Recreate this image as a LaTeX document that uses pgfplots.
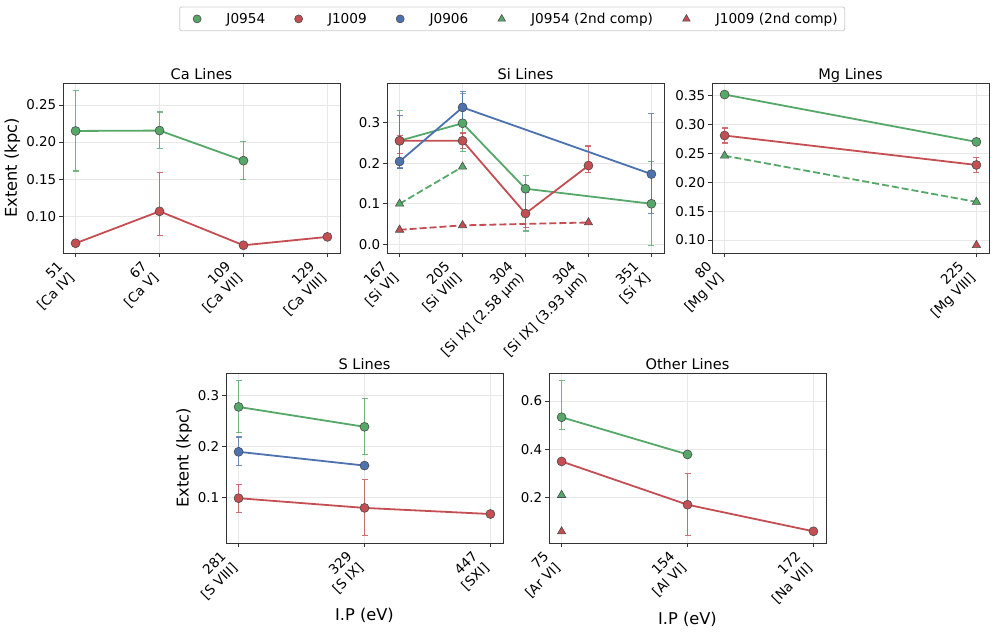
\documentclass[border=0pt]{standalone}
\usepackage{fontspec}
\setmainfont{DejaVu Sans}
\usepackage{pgfplots}
\usepackage{pgfplotstable}
\pgfplotsset{compat=1.18}
\definecolor{cg}{HTML}{55A868}
\definecolor{cr}{HTML}{C44E52}
\definecolor{cb}{HTML}{4C72B0}
\pgfplotsset{
 every axis title shift=-3.4bp,
 panel/.style={scale only axis, width=277bp, height=170bp, anchor=south west,
  axis line style={draw=black!80, line width=0.8bp},
  grid=major, grid style={draw=black!9, line width=0.6bp},
  tick align=outside, xtick pos=bottom, ytick pos=left,
  major tick length=4bp, tick style={draw=black!80, line width=0.8bp},
  /pgf/number format/assume math mode=true,
  ticklabel style={font=\fontsize{13.5}{16.2}\selectfont},
  xticklabel style={xshift=-19bp, yshift=-3bp, rotate=45, anchor=north east, align=right, inner sep=0pt},
  yticklabel style={inner sep=2.5bp},
  title style={font=\fontsize{14.6}{17}\selectfont, text depth=3.5bp},
  label style={font=\fontsize{16.3}{19}\selectfont},
  xlabel style={yshift=-3bp},
  scaled y ticks=false,
 },
 ytwo/.style={yticklabel style={/pgf/number format/.cd, fixed, precision=2, fixed zerofill}},
 yone/.style={yticklabel style={/pgf/number format/.cd, fixed, precision=1, fixed zerofill}},
 ser/.style={line width=1.8bp, color=#1, mark=*, mark size=4.5bp,
   mark options={solid, fill=#1, draw=black!70, line width=0.6bp}},
 ebar/.style={forget plot, color=#1, only marks, mark=none,
   error bars/y dir=both, error bars/y explicit,
   error bars/error bar style={color=#1, line width=1.2bp, opacity=0.8, solid},
   error bars/error mark options={rotate=90, color=#1, line width=1.1bp, mark size=3bp, opacity=0.8, solid}},
 tri/.style={line width=1.8bp, color=#1, dash pattern=on 7bp off 3bp, mark=triangle*, mark size=4.8bp,
   mark options={solid, fill=#1, draw=black!70, line width=0.6bp}},
 table/etab/.style={x=x, y=y, y error plus=ep, y error minus=em},
 table/xy/.style={x=x, y=y},
}
% ---- data: x = category index, y = extent (kpc), ep/em = upper/lower error ----
\pgfplotstableread[row sep=\\]{x y ep em\\ 0 0.215 0.054 0.054\\ 1 0.2155 0.025 0.024\\ 2 0.175 0.026 0.026\\}\CaG
\pgfplotstableread[row sep=\\]{x y ep em\\ 0 0.0637 0 0\\ 1 0.1067 0.052 0.032\\ 2 0.061 0 0\\ 3 0.0723 0 0\\}\CaR
\pgfplotstableread[row sep=\\]{x y ep em\\ 0 0.255 0.074 0.069\\ 1 0.298 0.074 0.069\\ 2 0.137 0.032 0.104\\ 4 0.100 0.103 0.102\\}\SiG
\pgfplotstableread[row sep=\\]{x y ep em\\ 0 0.255 0.012 0.032\\ 1 0.255 0.019 0.018\\ 2 0.076 0.051 0.035\\ 3 0.194 0.048 0.018\\}\SiR
\pgfplotstableread[row sep=\\]{x y ep em\\ 0 0.204 0.112 0.016\\ 1 0.337 0.040 0.040\\ 4 0.173 0.148 0.096\\}\SiB
\pgfplotstableread[row sep=\\]{x y\\ 0 0.100\\ 1 0.191\\}\SiGt
\pgfplotstableread[row sep=\\]{x y\\ 0 0.036\\ 1 0.047\\ 3 0.054\\}\SiRt
\pgfplotstableread[row sep=\\]{x y\\ 0 0.352\\ 1 0.270\\}\MgG
\pgfplotstableread[row sep=\\]{x y ep em\\ 0 0.281 0.013 0.013\\ 1 0.230 0.013 0.013\\}\MgR
\pgfplotstableread[row sep=\\]{x y\\ 0 0.246\\ 1 0.166\\}\MgGt
\pgfplotstableread[row sep=\\]{x y\\ 1 0.091\\}\MgRt
\pgfplotstableread[row sep=\\]{x y ep em\\ 0 0.278 0.051 0.051\\ 1 0.239 0.056 0.055\\}\SG
\pgfplotstableread[row sep=\\]{x y ep em\\ 0 0.190 0.029 0.027\\ 1 0.163 0 0\\}\SB
\pgfplotstableread[row sep=\\]{x y ep em\\ 0 0.099 0.027 0.028\\ 1 0.080 0.055 0.054\\ 2 0.068 0 0\\}\SR
\pgfplotstableread[row sep=\\]{x y ep em\\ 0 0.533 0.151 0.050\\ 1 0.379 0 0\\}\OG
\pgfplotstableread[row sep=\\]{x y ep em\\ 0 0.350 0 0\\ 1 0.171 0.128 0.127\\ 2 0.061 0 0\\}\OR
\pgfplotstableread[row sep=\\]{x y\\ 0 0.211\\}\OGt
\pgfplotstableread[row sep=\\]{x y\\ 0 0.060\\}\ORt
\begin{document}
\begin{tikzpicture}
\path[use as bounding box] (0,0) rectangle (996bp,633bp);

% ---------- Ca ----------
\begin{axis}[panel, ytwo, at={(63bp,380bp)}, xmin=-0.15, xmax=3.15, ymin=0.0506, ymax=0.2796,
  xtick={0,1,2,3}, ytick={0.10,0.15,0.20,0.25},
  xticklabels={{51\\{[}Ca IV]}, {67\\{[}Ca V]}, {109\\{[}Ca VII]}, {129\\{[}Ca VIII]}},
  title={Ca Lines}, ylabel={Extent (kpc)}]
\addplot[ebar=cg] table[etab] {\CaG};
\addplot[ser=cg] table[xy] {\CaG};
\addplot[ebar=cr] table[etab] {\CaR};
\addplot[ser=cr] table[xy] {\CaR};
\end{axis}

% ---------- Si ----------
\begin{axis}[panel, yone, at={(387bp,380bp)}, xmin=-0.2, xmax=4.2, ymin=-0.021, ymax=0.397,
  xtick={0,1,2,3,4}, ytick={0,0.1,0.2,0.3},
  xticklabels={{167\\{[}Si VI]}, {205\\{[}Si VIII]}, {304\\{[}Si IX] (2.58 µm)}, {304\\{[}Si IX] (3.93 µm)}, {351\\{[}Si X]}},
  title={Si Lines},
  legend columns=5,
  legend style={at={(0.452,1.377)}, anchor=center, draw=black!20, line width=0.8bp, rounded corners=2bp,
    fill=white, font=\fontsize{13.7}{16}\selectfont, inner xsep=5bp, inner ysep=4bp,
    /tikz/every even column/.append style={column sep=19bp}},
  legend image code/.code={\path (-12bp,0bp) (27bp,0bp); \draw[#1] plot coordinates {(0bp,0bp)};}]
\addplot[ebar=cg] table[etab] {\SiG};
\addplot[ser=cg, forget plot] table[xy] {\SiG};
\addplot[ebar=cr] table[etab] {\SiR};
\addplot[ser=cr, forget plot] table[xy] {\SiR};
\addplot[ebar=cb] table[etab] {\SiB};
\addplot[ser=cb, forget plot] table[xy] {\SiB};
\addplot[tri=cg, forget plot] table[xy] {\SiGt};
\addplot[tri=cr, forget plot] table[xy] {\SiRt};
\addlegendimage{only marks, mark=*, mark size=4bp, mark options={fill=cg, draw=black!70, line width=0.6bp}}
\addlegendentry{J0954}
\addlegendimage{only marks, mark=*, mark size=4bp, mark options={fill=cr, draw=black!70, line width=0.6bp}}
\addlegendentry{J1009}
\addlegendimage{only marks, mark=*, mark size=4bp, mark options={fill=cb, draw=black!70, line width=0.6bp}}
\addlegendentry{J0906}
\addlegendimage{only marks, mark=triangle*, mark size=4.3bp, mark options={fill=cg, draw=black!70, line width=0.6bp}}
\addlegendentry{J0954 (2nd comp)}
\addlegendimage{only marks, mark=triangle*, mark size=4.3bp, mark options={fill=cr, draw=black!70, line width=0.6bp}}
\addlegendentry{J1009 (2nd comp)}
\end{axis}

% ---------- Mg ----------
\begin{axis}[panel, ytwo, at={(712bp,380bp)}, xmin=-0.05, xmax=1.05, ymin=0.0775, ymax=0.372,
  xtick={0,1}, ytick={0.10,0.15,0.20,0.25,0.30,0.35},
  xticklabels={{80\\{[}Mg IV]}, {225\\{[}Mg VIII]}},
  title={Mg Lines}]
\addplot[ser=cg] table[xy] {\MgG};
\addplot[ebar=cr] table[etab] {\MgR};
\addplot[ser=cr] table[xy] {\MgR};
\addplot[tri=cg] table[xy] {\MgGt};
\addplot[tri=cr] table[xy] {\MgRt};
\end{axis}

% ---------- S ----------
\begin{axis}[panel, yone, at={(226bp,90bp)}, xmin=-0.1, xmax=2.1, ymin=0.0112, ymax=0.3445,
  xtick={0,1,2}, ytick={0.1,0.2,0.3},
  xticklabels={{281\\{[}S VIII]}, {329\\{[}S IX]}, {447\\{[}SXI]}},
  title={S Lines}, ylabel={Extent (kpc)}, xlabel={I.P (eV)}]
\addplot[ebar=cg] table[etab] {\SG};
\addplot[ser=cg] table[xy] {\SG};
\addplot[ebar=cb] table[etab] {\SB};
\addplot[ser=cb] table[xy] {\SB};
\addplot[ebar=cr] table[etab] {\SR};
\addplot[ser=cr] table[xy] {\SR};
\end{axis}

% ---------- Other ----------
\begin{axis}[panel, yone, at={(549bp,90bp)}, xmin=-0.1, xmax=2.1, ymin=0.0126, ymax=0.716,
  xtick={0,1,2}, ytick={0.2,0.4,0.6},
  xticklabels={{75\\{[}Ar VI]}, {154\\{[}Al VI]}, {172\\{[}Na VII]}},
  title={Other Lines}, xlabel={I.P (eV)}]
\addplot[ebar=cg] table[etab] {\OG};
\addplot[ser=cg] table[xy] {\OG};
\addplot[ebar=cr] table[etab] {\OR};
\addplot[ser=cr] table[xy] {\OR};
\addplot[tri=cg] table[xy] {\OGt};
\addplot[tri=cr] table[xy] {\ORt};
\end{axis}
\end{tikzpicture}
\end{document}
